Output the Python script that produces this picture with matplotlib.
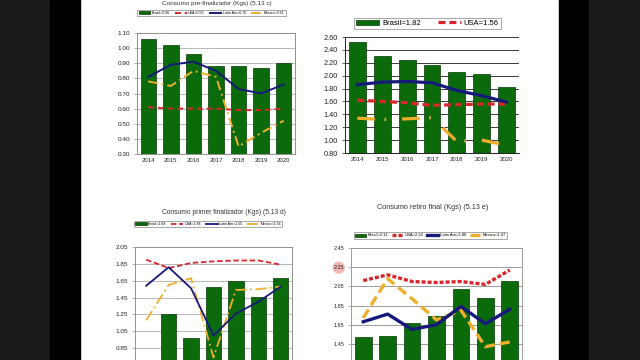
import numpy as np
import matplotlib.pyplot as plt
from matplotlib.patches import Rectangle

plt.rcParams['font.family'] = ['Liberation Sans', 'DejaVu Sans']

years = ['2014', '2015', '2016', '2017', '2018', '2019', '2020']

# top left: consumo pre-finalizador
tl_brasil = [1.06, 1.02, 0.96, 0.88, 0.88, 0.87, 0.90]
tl_usa = [0.61, 0.60, 0.60, 0.60, 0.59, 0.59, 0.60]
tl_latam = [0.81, 0.89, 0.91, 0.85, 0.73, 0.70, 0.76]
tl_mexico = [0.78, 0.75, 0.85, 0.81, 0.35, 0.44, 0.52]
tl_labels = ['Brasil=0.90', 'USA=0.59', 'Latin Am=0.75', 'Mexico=0.51']
tl_yticks = [0.30, 0.40, 0.50, 0.60, 0.70, 0.80, 0.90, 1.00, 1.10]

# top right
tr_brasil = [2.52, 2.30, 2.25, 2.17, 2.05, 2.03, 1.82]
tr_usa = [1.62, 1.60, 1.58, 1.54, 1.55, 1.56, 1.56]
tr_latam = [1.86, 1.90, 1.91, 1.89, 1.77, 1.69, 1.59]
tr_mexico = [1.34, 1.32, 1.33, 1.35, 0.98, 1.00, 0.92]
tr_labels = ['Brasil=1.82', 'USA=1.56']
tr_yticks = [0.80, 1.00, 1.20, 1.40, 1.60, 1.80, 2.00, 2.20, 2.40, 2.60]

# bottom left: consumo primer finalizador (lower part is off the slide)
bl_brasil = [np.nan, 1.25, 0.97, 1.58, 1.65, 1.46, 1.68]
bl_usa = [1.90, 1.80, 1.86, 1.88, 1.89, 1.89, 1.84]
bl_latam = [1.59, 1.81, 1.56, 1.00, 1.26, 1.40, 1.58]
bl_mexico = [1.18, 1.60, 1.68, 0.74, 1.54, 1.55, 1.58]
bl_labels = ['Brasil=1.68', 'USA=1.84', 'Latin Am=1.55', 'Mexico=1.56']
bl_yticks = [0.85, 1.05, 1.25, 1.45, 1.65, 1.85, 2.05]

# bottom right: consumo retiro final
br_brasil = [1.52, 1.53, 1.67, 1.74, 2.02, 1.93, 2.11]
br_usa = [2.11, 2.17, 2.10, 2.09, 2.10, 2.07, 2.22]
br_latam = [1.68, 1.76, 1.60, 1.65, 1.84, 1.66, 1.81]
br_mexico = [1.72, 2.13, 1.92, 1.70, 1.80, 1.42, 1.47]
br_labels = ['Brasil=2.11', 'USA=2.22', 'Latin Am=1.80', 'Mexico=1.47']
br_yticks = [1.45, 1.65, 1.85, 2.05, 2.25, 2.45]

GREEN = '#0b6b0b'
NAVY = '#16197a'
RED = '#d8262a'
ORANGE = '#efae2c'
W, H = 640, 360


def px_rect(left, right, top, bottom):
    return [left / W, 1 - bottom / H, (right - left) / W, (bottom - top) / H]


fig = plt.figure(figsize=(6.4, 3.6), dpi=100)
fig.patch.set_facecolor('white')

# dark bands on each side of the slide
for x0, x1, c in [(0, 50, '#1b1b1b'), (50, 80, 'black'),
                  (559, 589, 'black'), (589, 640, '#1b1b1b')]:
    fig.add_artist(Rectangle((x0 / W, 0), (x1 - x0) / W, 1,
                             transform=fig.transFigure, color=c, zorder=0))


def draw_panel(rect, brasil, usa, latam, mexico, yticks, ylim, grid_c,
               spine_c, lw, usa_dash, mex_dash, fs_y, fs_x, show_x=True):
    ax = fig.add_axes(rect)
    x = np.arange(len(years))
    bars = ax.bar(x, brasil, width=0.68, color=GREEN, edgecolor='#033a03',
                  linewidth=0.5, zorder=2)
    l_usa, = ax.plot(x, usa, color=RED, lw=lw, dashes=usa_dash, zorder=3)
    l_lat, = ax.plot(x, latam, color=NAVY, lw=lw, zorder=4)
    l_mex, = ax.plot(x, mexico, color=ORANGE, lw=lw, dashes=mex_dash, zorder=3)
    ax.set_xlim(-0.5, len(years) - 0.5)
    ax.set_ylim(*ylim)
    ax.set_yticks(yticks)
    ax.set_yticklabels(['%.2f' % v for v in yticks], fontsize=fs_y, color='#222222')
    ax.set_xticks(x)
    if show_x:
        ax.set_xticklabels(years, fontsize=fs_x, color='#222222')
    else:
        ax.set_xticklabels([])
    ax.tick_params(length=2, width=0.5, pad=3, color=spine_c)
    ax.tick_params(axis='x', length=0)
    ax.yaxis.grid(True, color=grid_c, lw=0.7)
    ax.set_axisbelow(True)
    for s in ax.spines.values():
        s.set_color(spine_c)
        s.set_linewidth(0.7)
    return ax, [bars, l_usa, l_lat, l_mex]


def add_legend(ax, handles, labels, cx, cy, fs, hl, cs):
    leg = ax.legend(handles, labels, loc='center', ncol=len(labels),
                    bbox_to_anchor=(cx / W, 1 - cy / H),
                    bbox_transform=fig.transFigure, fontsize=fs,
                    frameon=True, fancybox=False, edgecolor='#808080',
                    handlelength=hl, columnspacing=cs, handletextpad=0.4,
                    borderpad=0.3, borderaxespad=0)
    leg.get_frame().set_linewidth(0.6)
    return leg


# top left
ax, h = draw_panel(px_rect(137, 295, 33, 154), tl_brasil, tl_usa, tl_latam,
                   tl_mexico, tl_yticks, (0.30, 1.10), '#b8b8b8', '#909090',
                   1.4, (3, 2), (5, 2, 1, 2), 4.6, 4.3)
add_legend(ax, h, tl_labels, 211.5, 13, 2.6, 3.2, 1.4)
fig.text(217 / W, 1 - 4 / H, 'Consumo pre-finalizador (Kgs) (5.13 c)',
         ha='center', va='center', fontsize=4.6, color='#333333')

# top right
ax, h = draw_panel(px_rect(345, 519, 37, 153), tr_brasil, tr_usa, tr_latam,
                   tr_mexico, tr_yticks, (0.80, 2.60), '#3a3a3a', '#202020',
                   2.3, (2.2, 1.2), (5.5, 3, 0.5, 5), 5.3, 4.3)
ax.spines['right'].set_visible(False)
ax.spines['top'].set_visible(False)
add_legend(ax, h[:2], tr_labels, 427.5, 23.5, 5.5, 3.0, 2.2)

# bottom left
ax, h = draw_panel(px_rect(135, 292, 247, 365), bl_brasil, bl_usa, bl_latam,
                   bl_mexico, bl_yticks, (0.65, 2.05), '#b8b8b8', '#909090',
                   1.3, (3, 1.5), (6, 2, 1, 2), 4.6, 4.2, show_x=False)
add_legend(ax, h, bl_labels, 208, 224, 2.6, 3.2, 1.4)
fig.text(224 / W, 1 - 212 / H, 'Consumo primer finalizador (Kgs) (5.13 d)',
         ha='center', va='center', fontsize=4.8, color='#333333')

# bottom right
ax, h = draw_panel(px_rect(351, 522, 248, 363), br_brasil, br_usa, br_latam,
                   br_mexico, br_yticks, (1.25, 2.45), '#9a9a9a', '#9a9a9a',
                   2.4, (1.2, 0.6), (3, 1.5), 4.0, 4.0, show_x=False)
for lab in ax.get_yticklabels():
    if lab.get_text() == '2.25':
        lab.set_bbox(dict(boxstyle='circle,pad=0.15', fc='#f3a3a3',
                          ec='none', alpha=0.8))
add_legend(ax, h, br_labels, 430.5, 235.5, 3.0, 2.6, 1.0)
fig.text(433 / W, 1 - 208 / H, 'Consumo retiro final (Kgs) (5.13 e)',
         ha='center', va='center', fontsize=5.2, color='#333333')

fig.savefig('out.png', dpi=100)
